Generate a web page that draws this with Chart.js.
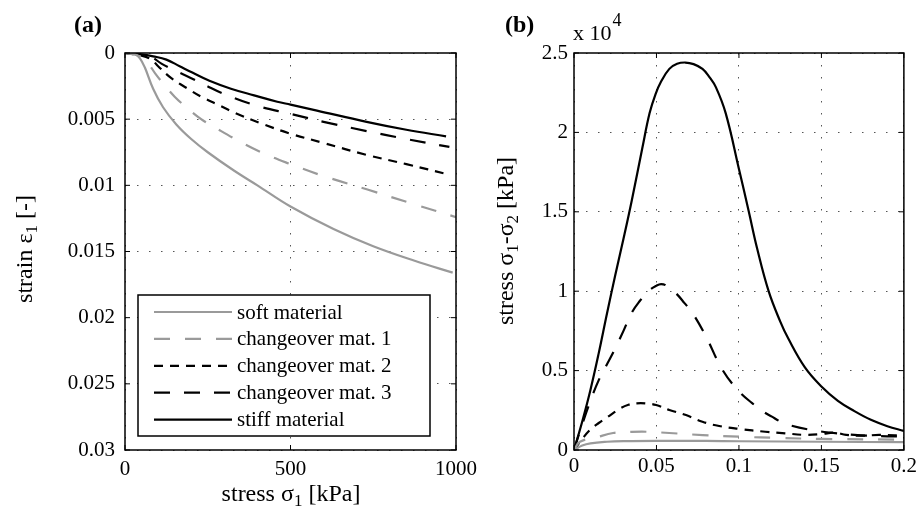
<!DOCTYPE html>
<html>
<head>
<meta charset="utf-8">
<script src="https://cdn.jsdelivr.net/npm/chart.js@4/dist/chart.umd.min.js"></script>
<style>
  body { margin: 0; background: #fff; }
  .panel { position: absolute; top: 0; height: 513px; }
  #wrapA { left: 0; width: 490px; }
  #wrapB { left: 460px; width: 461px; }
</style>
</head>
<body>
<div class="panel" id="wrapA"><canvas id="chartA"></canvas></div>
<div class="panel" id="wrapB"><canvas id="chartB"></canvas></div>
<script>
  // panel (a): stress sigma1 [kPa] -> strain eps1 [-]
  const softA  = [[0,0],[30,0.0001],[45,0.0004],[60,0.0011],[85,0.0027],[115,0.0041],[155,0.0054],[200,0.0065],[250,0.0075],[330,0.0089],[400,0.01],[500,0.0116],[630,0.0133],[750,0.0146],[875,0.0157],[990,0.0166]];
  const chg1A  = [[0,0],[40,0.0002],[70,0.0008],[90,0.0015],[115,0.0023],[150,0.0033],[190,0.0042],[230,0.005],[270,0.0056],[340,0.0066],[420,0.0076],[500,0.0084],[600,0.0093],[730,0.0103],[870,0.0114],[1000,0.0124]];
  const chg2A  = [[0,0],[50,0.0002],[80,0.0005],[100,0.001],[140,0.0019],[190,0.0027],[230,0.0033],[280,0.0039],[330,0.0045],[420,0.0054],[500,0.0061],[600,0.0068],[730,0.0077],[850,0.0084],[980,0.0092]];
  const chg3A  = [[0,0],[50,0.0001],[80,0.0003],[110,0.0008],[150,0.0013],[200,0.0019],[240,0.0024],[300,0.0031],[400,0.004],[500,0.0046],[600,0.0052],[730,0.0059],[850,0.0065],[980,0.0071]];
  const stiffA = [[0,0],[50,0.0001],[85,0.00025],[125,0.0005],[165,0.001],[205,0.0015],[255,0.0021],[320,0.0027],[390,0.0032],[460,0.00368],[500,0.0039],[580,0.00435],[730,0.0052],[850,0.0058],[970,0.0063]];

  // panel (b): strain eps1 [-] -> stress sigma1-sigma2 [kPa]
  const softB  = [[0,0],[0.005,280],[0.01,420],[0.02,520],[0.03,560],[0.05,580],[0.08,570],[0.1,550],[0.15,520],[0.2,490]];
  const chg1B  = [[0,0],[0.0036,520],[0.0137,800],[0.0237,1070],[0.035,1140],[0.0438,1150],[0.0578,1070],[0.078,940],[0.102,830],[0.124,760],[0.15,700],[0.2,650]];
  const chg2B  = [[0,0],[0.005,700],[0.0096,1260],[0.015,1700],[0.02,2050],[0.0277,2600],[0.033,2850],[0.038,2940],[0.044,2930],[0.0498,2830],[0.0578,2520],[0.0679,2200],[0.0779,1780],[0.088,1510],[0.1,1330],[0.116,1150],[0.128,1050],[0.14,950],[0.15,1000],[0.158,1100],[0.165,950],[0.175,900],[0.185,950],[0.2,900]];
  const chg3B  = [[0,0],[0.004,1300],[0.01,3100],[0.015,4400],[0.02,5400],[0.025,6400],[0.03,7500],[0.035,8650],[0.04,9400],[0.045,10000],[0.05,10350],[0.0528,10450],[0.056,10350],[0.062,9850],[0.067,9250],[0.072,8600],[0.08,7150],[0.09,5050],[0.1,3700],[0.108,2950],[0.115,2400],[0.12,2100],[0.125,1800],[0.132,1530],[0.144,1260],[0.155,1100],[0.17,950],[0.185,880],[0.2,850]];
  const stiffB = [[0,0],[0.005,1800],[0.01,3800],[0.015,6100],[0.02,8600],[0.025,11000],[0.03,13300],[0.035,15700],[0.0414,19000],[0.0458,21200],[0.0494,22400],[0.0528,23200],[0.0578,24000],[0.0625,24320],[0.0675,24400],[0.0725,24300],[0.0779,24000],[0.082,23500],[0.086,22850],[0.092,21200],[0.1,17700],[0.106,15000],[0.111,12700],[0.118,10000],[0.125,8100],[0.13,7000],[0.14,5200],[0.15,4000],[0.16,3100],[0.17,2450],[0.18,1900],[0.19,1500],[0.2,1200]];

  const seriesNames = ['soft material', 'changeover mat. 1', 'changeover mat. 2', 'changeover mat. 3', 'stiff material'];
  const xTicksA = [0, 500, 1000];
  const yTicksA = [0, 0.005, 0.01, 0.015, 0.02, 0.025, 0.03];
  const xTicksB = [0, 0.05, 0.1, 0.15, 0.2];
  const yTicksB = [0, 5000, 10000, 15000, 20000, 25000];

  const SERIF = '"Liberation Serif", "Times New Roman", serif';
  const GRAY = '#9a9a9a';
  Chart.defaults.font.family = SERIF;
  Chart.defaults.color = '#000';

  const styles = [
    { borderColor: GRAY, borderDash: [] },
    { borderColor: GRAY, borderDash: [16, 15] },
    { borderColor: '#000', borderDash: [9, 7] },
    { borderColor: '#000', borderDash: [16, 14] },
    { borderColor: '#000', borderDash: [] }
  ];

  function makeDatasets(list) {
    return list.map((pts, i) => ({
      label: seriesNames[i],
      data: pts.map(p => ({ x: p[0], y: p[1] })),
      borderColor: styles[i].borderColor,
      borderDash: styles[i].borderDash,
      borderWidth: 2.2,
      pointRadius: 0,
      tension: 0.4,
      fill: false
    }));
  }

  // text with subscripts, centred on x, y is the baseline
  function richText(ctx, parts, x, y, size, angle) {
    ctx.save();
    ctx.translate(x, y);
    ctx.rotate(angle || 0);
    ctx.textAlign = 'left';
    ctx.textBaseline = 'alphabetic';
    ctx.fillStyle = '#000';
    const fontOf = p => (p.sub ? Math.round(size * 0.7) : size) + 'px ' + SERIF;
    let w = 0;
    parts.forEach(p => { ctx.font = fontOf(p); w += ctx.measureText(p.t).width; });
    let cx = -w / 2;
    parts.forEach(p => {
      ctx.font = fontOf(p);
      ctx.fillText(p.t, cx, p.sub ? size * 0.22 : 0);
      cx += ctx.measureText(p.t).width;
    });
    ctx.restore();
  }

  // box round the axes with little inward ticks, like the original
  const framePlugin = {
    id: 'frame',
    afterDatasetsDraw(chart) {
      const { ctx, chartArea: a, scales } = chart;
      ctx.save();
      ctx.strokeStyle = '#000';
      ctx.lineWidth = 1.5;
      ctx.setLineDash([]);
      ctx.strokeRect(a.left, a.top, a.right - a.left, a.bottom - a.top);
      ctx.lineWidth = 1;
      ctx.beginPath();
      scales.x.ticks.forEach(t => {
        const px = scales.x.getPixelForValue(t.value);
        ctx.moveTo(px, a.bottom); ctx.lineTo(px, a.bottom - 5);
        ctx.moveTo(px, a.top); ctx.lineTo(px, a.top + 5);
      });
      scales.y.ticks.forEach(t => {
        const py = scales.y.getPixelForValue(t.value);
        ctx.moveTo(a.left, py); ctx.lineTo(a.left + 5, py);
        ctx.moveTo(a.right, py); ctx.lineTo(a.right - 5, py);
      });
      ctx.stroke();
      ctx.restore();
    }
  };

  const legendBoxPlugin = {
    id: 'legendBox',
    afterDraw(chart) {
      const ctx = chart.ctx;
      const a = chart.chartArea;
      const left = a.left + 13, top = a.top + 242, w = 292, h = 141;
      ctx.save();
      ctx.fillStyle = '#fff';
      ctx.fillRect(left, top, w, h);
      ctx.strokeStyle = '#000';
      ctx.lineWidth = 1.5;
      ctx.strokeRect(left, top, w, h);
      ctx.font = '21px ' + SERIF;
      ctx.textBaseline = 'middle';
      chart.data.datasets.forEach((ds, i) => {
        const y = top + 17 + i * 26.9;
        ctx.strokeStyle = ds.borderColor;
        ctx.lineWidth = ds.borderWidth;
        ctx.setLineDash(ds.borderDash);
        ctx.beginPath();
        ctx.moveTo(left + 16, y);
        ctx.lineTo(left + 94, y);
        ctx.stroke();
        ctx.setLineDash([]);
        ctx.fillStyle = '#000';
        ctx.fillText(ds.label, left + 99, y + 1);
      });
      ctx.restore();
    }
  };

  const labelsA = {
    id: 'labelsA',
    afterDraw(chart) {
      const ctx = chart.ctx;
      ctx.save();
      ctx.font = 'bold 24px ' + SERIF;
      ctx.fillStyle = '#000';
      ctx.fillText('(a)', 74, 32);
      ctx.restore();
      richText(ctx, [{ t: 'stress σ' }, { t: '1', sub: true }, { t: ' [kPa]' }], 291, 501, 24, 0);
      richText(ctx, [{ t: 'strain ε' }, { t: '1', sub: true }, { t: ' [-]' }], 32, 249, 24, -Math.PI / 2);
    }
  };

  const labelsB = {
    id: 'labelsB',
    afterDraw(chart) {
      const ctx = chart.ctx;
      ctx.save();
      ctx.fillStyle = '#000';
      ctx.font = 'bold 24px ' + SERIF;
      ctx.fillText('(b)', 505 - 460, 32);
      ctx.font = '22px ' + SERIF;
      ctx.fillText('x 10', 573 - 460, 40);
      const w = ctx.measureText('x 10').width;
      ctx.font = '18px ' + SERIF;
      ctx.fillText('4', 573 - 460 + w + 1, 26);
      ctx.restore();
      richText(ctx, [{ t: 'strain ε' }, { t: '1', sub: true }, { t: ' [-]' }], 738, 511, 24, 0);
      richText(ctx, [{ t: 'stress σ' }, { t: '1', sub: true }, { t: '-σ' }, { t: '2', sub: true }, { t: ' [kPa]' }], 513 - 460, 241, 24, -Math.PI / 2);
    }
  };

  function axis(min, max, step, fixed, fmt, pad, extra) {
    return Object.assign({
      type: 'linear',
      min: min,
      max: max,
      ticks: { stepSize: step, font: { size: 21 }, padding: pad, maxRotation: 0, autoSkip: false, callback: fmt },
      grid: { color: '#555', lineWidth: 1, drawTicks: false },
      border: { display: false, dash: [1.5, 10.5] },
      afterFit(scale) {
        if (scale.isHorizontal()) scale.height = fixed; else scale.width = fixed;
      }
    }, extra || {});
  }

  new Chart(document.getElementById('chartA'), {
    type: 'line',
    data: { datasets: makeDatasets([softA, chg1A, chg2A, chg3A, stiffA]) },
    options: {
      responsive: true,
      maintainAspectRatio: false,
      animation: false,
      layout: { padding: { top: 53, right: 34, left: 0, bottom: 0 } },
      plugins: { legend: { display: false }, tooltip: { enabled: false } },
      scales: {
        x: axis(xTicksA[0], xTicksA[xTicksA.length - 1], 500, 63, v => String(v), 7),
        y: axis(yTicksA[0], yTicksA[yTicksA.length - 1], 0.005, 125, v => String(+v.toFixed(4)), 10, { reverse: true })
      }
    },
    plugins: [framePlugin, legendBoxPlugin, labelsA]
  });

  new Chart(document.getElementById('chartB'), {
    type: 'line',
    data: { datasets: makeDatasets([softB, chg1B, chg2B, chg3B, stiffB]) },
    options: {
      responsive: true,
      maintainAspectRatio: false,
      animation: false,
      layout: { padding: { top: 53, right: 15, left: 0, bottom: 0 } },
      plugins: { legend: { display: false }, tooltip: { enabled: false } },
      scales: {
        x: axis(xTicksB[0], xTicksB[xTicksB.length - 1], 0.05, 63, v => String(+v.toFixed(3)), 4),
        y: axis(yTicksB[0], yTicksB[yTicksB.length - 1], 5000, 114, v => String(+(v / 1e4).toFixed(2)), 6)
      }
    },
    plugins: [framePlugin, labelsB]
  });
</script>
</body>
</html>
